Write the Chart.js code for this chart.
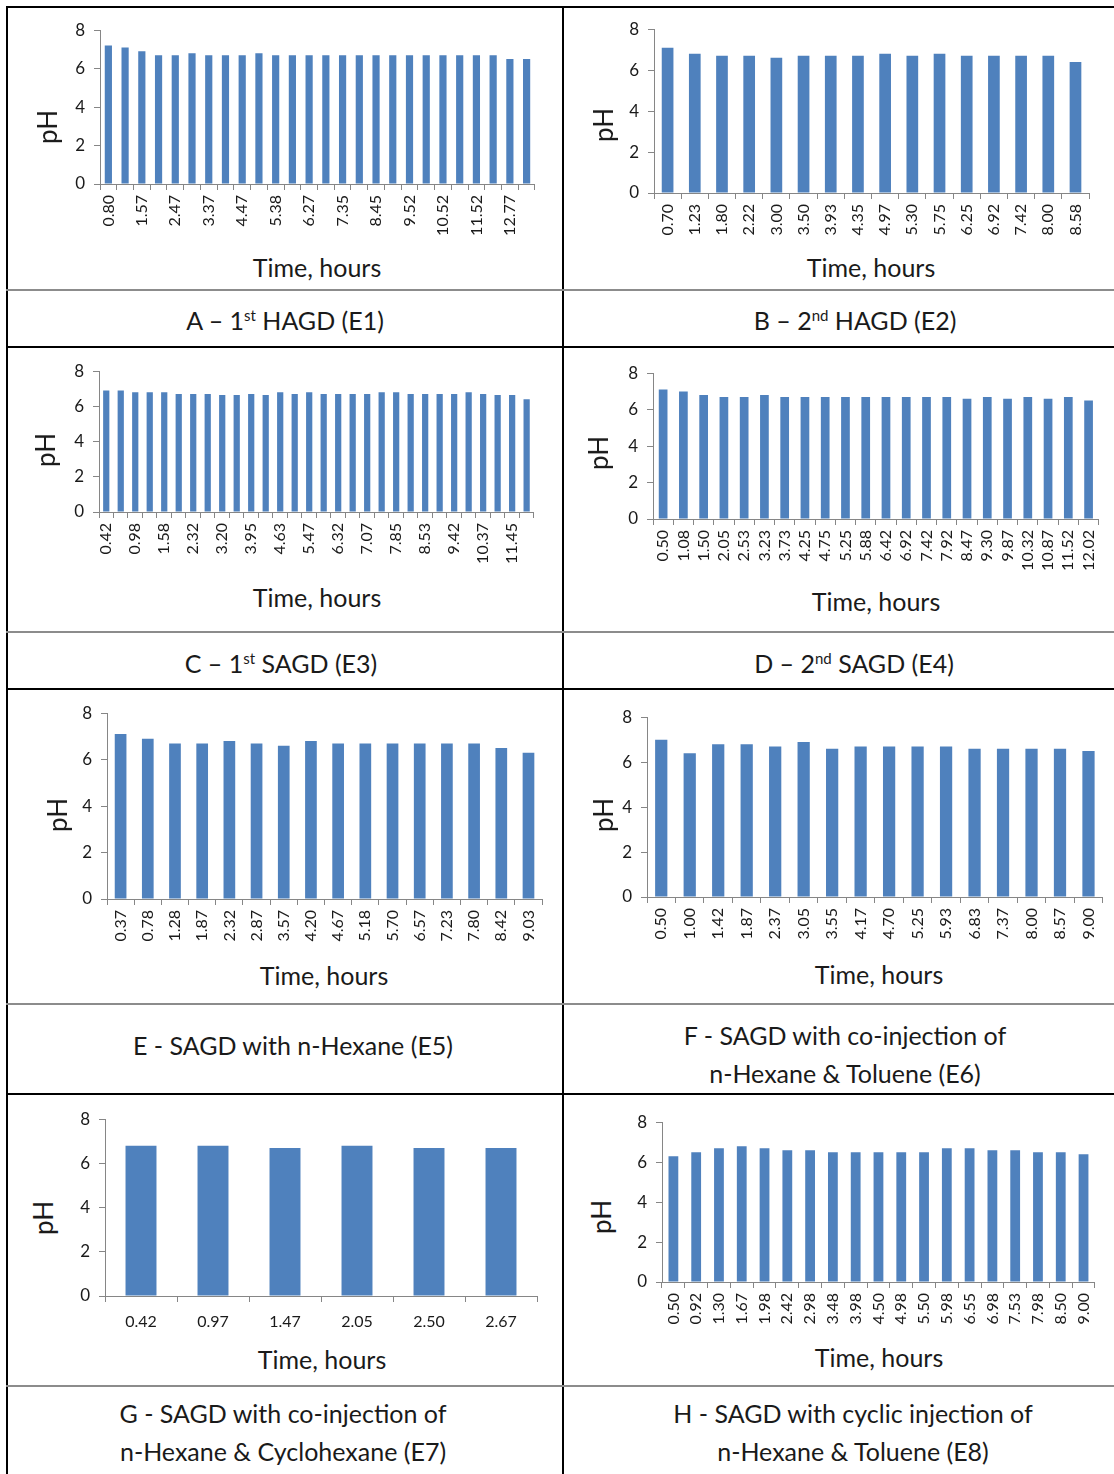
<!DOCTYPE html>
<html>
<head>
<meta charset="utf-8">
<script src="https://cdn.jsdelivr.net/npm/chart.js@4.4.1/dist/chart.umd.min.js"></script>
<style>
  body { margin: 0; background: #fff; width: 1114px; height: 1474px; overflow: hidden; position: relative; font-family: Lato, sans-serif; color: #1a1a1a; }
  .ln { position: absolute; }
  .cap { position: absolute; font-size: 25px; line-height: 38px; text-align: center; white-space: nowrap; transform: translate(-50%, -50%); }
  .cap sup { font-size: 15px; vertical-align: 9px; line-height: 0; }
  .xt { position: absolute; font-size: 25px; white-space: nowrap; transform: translate(-50%, -50%); }
  .yt { position: absolute; font-size: 26px; white-space: nowrap; transform: translate(-50%, -50%) rotate(-90deg); }
  canvas { position: absolute; }
</style>
</head>
<body>
<script>
const timeA = ['0.80', '', '1.57', '', '2.47', '', '3.37', '', '4.47', '', '5.38', '', '6.27', '',
  '7.35', '', '8.45', '', '9.52', '', '10.52', '', '11.52', '', '12.77', ''];
const phA = [7.2, 7.1, 6.9, 6.7, 6.7, 6.8, 6.7, 6.7, 6.7, 6.8, 6.7, 6.7, 6.7, 6.7, 6.7, 6.7,
  6.7, 6.7, 6.7, 6.7, 6.7, 6.7, 6.7, 6.7, 6.5, 6.5];

const timeB = ['0.70', '1.23', '1.80', '2.22', '3.00', '3.50', '3.93', '4.35', '4.97', '5.30',
  '5.75', '6.25', '6.92', '7.42', '8.00', '8.58'];
const phB = [7.1, 6.8, 6.7, 6.7, 6.6, 6.7, 6.7, 6.7, 6.8, 6.7, 6.8, 6.7, 6.7, 6.7, 6.7, 6.4];

const timeC = ['0.42', '', '0.98', '', '1.58', '', '2.32', '', '3.20', '', '3.95', '', '4.63', '',
  '5.47', '', '6.32', '', '7.07', '', '7.85', '', '8.53', '', '9.42', '', '10.37', '', '11.45', ''];
const phC = [6.9, 6.9, 6.8, 6.8, 6.8, 6.7, 6.7, 6.7, 6.65, 6.65, 6.7, 6.65, 6.8, 6.7, 6.8, 6.7,
  6.7, 6.7, 6.7, 6.8, 6.8, 6.7, 6.7, 6.7, 6.7, 6.8, 6.7, 6.65, 6.65, 6.4];

const timeD = ['0.50', '1.08', '1.50', '2.05', '2.53', '3.23', '3.73', '4.25', '4.75', '5.25', '5.88',
  '6.42', '6.92', '7.42', '7.92', '8.47', '9.30', '9.87', '10.32', '10.87', '11.52', '12.02'];
const phD = [7.1, 7.0, 6.8, 6.7, 6.7, 6.8, 6.7, 6.7, 6.7, 6.7, 6.7, 6.7, 6.7, 6.7, 6.7, 6.6,
  6.7, 6.6, 6.7, 6.6, 6.7, 6.5];

const timeE = ['0.37', '0.78', '1.28', '1.87', '2.32', '2.87', '3.57', '4.20', '4.67', '5.18',
  '5.70', '6.57', '7.23', '7.80', '8.42', '9.03'];
const phE = [7.1, 6.9, 6.7, 6.7, 6.8, 6.7, 6.6, 6.8, 6.7, 6.7, 6.7, 6.7, 6.7, 6.7, 6.5, 6.3];

const timeF = ['0.50', '1.00', '1.42', '1.87', '2.37', '3.05', '3.55', '4.17', '4.70', '5.25',
  '5.93', '6.83', '7.37', '8.00', '8.57', '9.00'];
const phF = [7.0, 6.4, 6.8, 6.8, 6.7, 6.9, 6.6, 6.7, 6.7, 6.7, 6.7, 6.6, 6.6, 6.6, 6.6, 6.5];

const timeG = ['0.42', '0.97', '1.47', '2.05', '2.50', '2.67'];
const phG = [6.8, 6.8, 6.7, 6.8, 6.7, 6.7];

const timeH = ['0.50', '0.92', '1.30', '1.67', '1.98', '2.42', '2.98', '3.48', '3.98', '4.50',
  '4.98', '5.50', '5.98', '6.55', '6.98', '7.53', '7.98', '8.50', '9.00'];
const phH = [6.3, 6.5, 6.7, 6.8, 6.7, 6.6, 6.6, 6.5, 6.5, 6.5, 6.5, 6.5, 6.7, 6.7, 6.6, 6.6,
  6.5, 6.5, 6.4];

const phTicks = [0, 2, 4, 6, 8];

// table grid
function line(x, y, w, h, color) {
  const d = document.createElement('div');
  d.className = 'ln';
  d.style.cssText = `left:${x}px;top:${y}px;width:${w}px;height:${h}px;background:${color}`;
  document.body.appendChild(d);
}
line(6, 6, 1108, 2, '#000');
line(6, 6, 2, 1468, '#000');
line(562, 6, 2, 1468, '#000');
[346, 688, 1093].forEach(y => line(6, y, 1108, 2, '#000'));
[289, 631, 1003, 1385].forEach(y => line(6, y, 1108, 2, '#8c8c8c'));

function text(cls, x, y, html) {
  const d = document.createElement('div');
  d.className = cls;
  d.style.left = x + 'px';
  d.style.top = y + 'px';
  d.innerHTML = html;
  document.body.appendChild(d);
}

// ax: y-axis x, top: y of 8, bot: y of 0, right: end of x-axis, xh: label band height,
// pr: right room chart.js ends up keeping beside the plot
const panels = [
  { labels: timeA, values: phA, ax: 100, top: 30, bot: 184, right: 534, xh: 60, pr: 17, rot: 90, ph: [47, 127], tx: [317, 267] },
  { labels: timeB, values: phB, ax: 654, top: 29, bot: 193, right: 1088, xh: 58, pr: 12, rot: 90, ph: [603, 125], tx: [871, 267] },
  { labels: timeC, values: phC, ax: 99, top: 371, bot: 512, right: 534, xh: 62, pr: 17, rot: 90, ph: [45, 450], tx: [317, 597] },
  { labels: timeD, values: phD, ax: 653, top: 373, bot: 519, right: 1098, xh: 62, pr: 15, rot: 90, ph: [598, 453], tx: [876, 601] },
  { labels: timeE, values: phE, ax: 107, top: 713, bot: 899, right: 540, xh: 56, pr: 13, rot: 90, ph: [57, 815], tx: [324, 975] },
  { labels: timeF, values: phF, ax: 647, top: 717, bot: 897, right: 1103, xh: 56, pr: 10, rot: 90, ph: [603, 815], tx: [879, 974] },
  { labels: timeG, values: phG, ax: 105, top: 1119, bot: 1296, right: 537, xh: 40, pr: 10, rot: 0, ph: [43, 1218], tx: [322, 1359] },
  { labels: timeH, values: phH, ax: 662, top: 1122, bot: 1282, right: 1097, xh: 56, pr: 11, rot: 90, ph: [601, 1217], tx: [879, 1357] },
];

// chart.js keeps ~19px above the chart area here, whatever the padding
const padT = 19, yw = 45;
const axisGrey = '#868686';

panels.forEach(p => {
  const c = document.createElement('canvas');
  const w = p.right - p.ax + yw + p.pr;
  const h = p.bot - p.top + padT + p.xh;
  c.width = w;
  c.height = h;
  c.style.left = (p.ax - yw) + 'px';
  c.style.top = (p.top - padT) + 'px';
  document.body.appendChild(c);

  new Chart(c, {
    type: 'bar',
    data: {
      labels: p.labels,
      datasets: [{
        data: p.values,
        backgroundColor: '#4f81bd',
        barPercentage: 0.43,
        categoryPercentage: 1,
      }],
    },
    options: {
      responsive: false,
      animation: false,
      events: [],
      layout: { padding: { top: 8, right: 10, left: 0, bottom: 0 } },
      plugins: { legend: { display: false }, tooltip: { enabled: false } },
      scales: {
        x: {
          grid: { drawOnChartArea: false, color: axisGrey, tickLength: 6, offset: true },
          border: { color: axisGrey },
          ticks: {
            autoSkip: false, maxRotation: p.rot, minRotation: p.rot,
            padding: p.rot ? 5 : 10, color: '#1a1a1a',
            font: { family: 'Lato', size: 16 },
          },
          afterFit: s => { s.height = p.xh; },
        },
        y: {
          min: 0, max: 8,
          afterBuildTicks: s => { s.ticks = phTicks.map(v => ({ value: v })); },
          grid: { drawOnChartArea: false, color: axisGrey, tickLength: 6 },
          border: { color: axisGrey },
          ticks: { padding: 9, color: '#1a1a1a', font: { family: 'Lato', size: 17 } },
          afterFit: s => { s.width = yw; },
        },
      },
    },
  });

  text('yt', p.ph[0], p.ph[1], 'pH');
  text('xt', p.tx[0], p.tx[1], 'Time, hours');
});

// captions
text('cap', 285, 320, 'A – 1<sup>st</sup> HAGD (E1)');
text('cap', 855, 320, 'B – 2<sup>nd</sup> HAGD (E2)');
text('cap', 281, 663, 'C – 1<sup>st</sup> SAGD (E3)');
text('cap', 854, 663, 'D – 2<sup>nd</sup> SAGD (E4)');
text('cap', 293, 1045, 'E - SAGD with n-Hexane (E5)');
text('cap', 845, 1054, 'F - SAGD with co-injection of<br>n-Hexane &amp; Toluene (E6)');
text('cap', 283, 1432, 'G - SAGD with co-injection of<br>n-Hexane &amp; Cyclohexane (E7)');
text('cap', 853, 1432, 'H - SAGD with cyclic injection of<br>n-Hexane &amp; Toluene (E8)');
</script>
</body>
</html>
